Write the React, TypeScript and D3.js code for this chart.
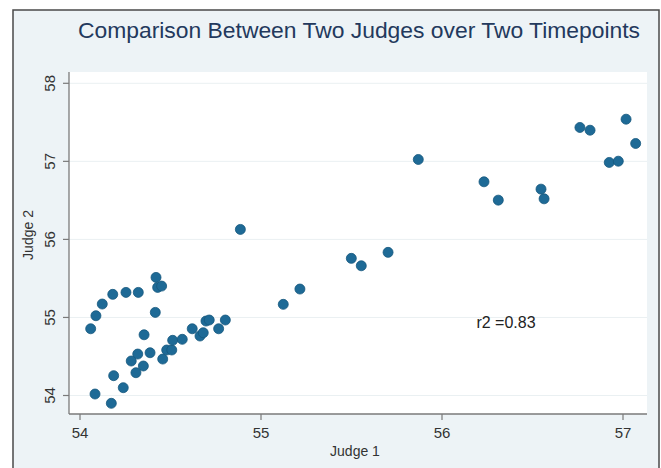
import React from "react";
import * as d3 from "d3";

const judge1: number[] = [
  54.059, 54.088, 54.123, 54.181, 54.254, 54.322, 54.42, 54.429, 54.451, 54.416,
  54.083, 54.173, 54.186, 54.239, 54.354, 54.319, 54.283, 54.35, 54.309, 54.387,
  54.457, 54.479, 54.507, 54.512, 54.565, 54.62, 54.663, 54.681, 54.696, 54.714,
  54.766, 54.803,
  55.869, 54.886, 55.702, 55.499, 55.554, 55.215, 55.123,
  56.232, 56.311, 56.547, 56.564, 56.762, 56.818, 57.017, 57.07, 56.924, 56.974,
];
const judge2: number[] = [
  54.855, 55.022, 55.172, 55.296, 55.321, 55.321, 55.513, 55.385, 55.402, 55.065,
  54.019, 53.9, 54.254, 54.1, 54.778, 54.531, 54.442, 54.378, 54.292, 54.548,
  54.467, 54.583, 54.583, 54.707, 54.72, 54.855, 54.762, 54.804, 54.954, 54.967,
  54.855, 54.967,
  57.024, 56.128, 55.834, 55.757, 55.662, 55.364, 55.168,
  56.738, 56.503, 56.644, 56.52, 57.434, 57.399, 57.54, 57.229, 56.986, 57.002,
];
const xTicks: number[] = [54, 55, 56, 57];
const yTicks: number[] = [54, 55, 56, 57, 58];
const titleText = "Comparison Between Two Judges over Two Timepoints";
const xLabel = "Judge 1";
const yLabel = "Judge 2";
const r2Label = "r2 =0.83";
const r2Pos: [number, number] = [56.19, 54.94];

const W = 661;
const H = 468;
const plot = { left: 69, right: 647, top: 72, bottom: 414 };

export default function App() {
  const x = d3
    .scaleLinear()
    .domain([54, 57])
    .range([80, 623]);
  const y = d3
    .scaleLinear()
    .domain([54, 58])
    .range([395.5, 83.3]);
  const font = "'Liberation Sans', Arial, Helvetica, sans-serif";
  const data = judge1.map((v, i) => [v, judge2[i]] as [number, number]);

  return (
    <svg
      width={W}
      height={H}
      style={{ position: "absolute", left: 0, top: 0, display: "block" }}
      fontFamily={font}
    >
      <rect x={0} y={0} width={W} height={H} fill="#ffffff" />
      <rect x={13} y={10} width={646} height={470} fill="#EDF3F6" stroke="#4a4a4a" strokeWidth={1.5} />
      <rect
        x={plot.left}
        y={plot.top}
        width={plot.right - plot.left}
        height={plot.bottom - plot.top}
        fill="#ffffff"
      />
      {yTicks.map((t) => (
        <line
          key={"g" + t}
          x1={plot.left}
          x2={plot.right}
          y1={y(t)}
          y2={y(t)}
          stroke="#EAF0F2"
          strokeWidth={1}
        />
      ))}
      <text
        x={78}
        y={38}
        fontSize={22}
        fill="#23395D"
        textLength={562}
        lengthAdjust="spacingAndGlyphs"
      >
        {titleText}
      </text>
      {/* axes */}
      <line x1={plot.left} x2={plot.left} y1={plot.top} y2={plot.bottom} stroke="#7a7a7a" strokeWidth={1.3} />
      <line x1={plot.left} x2={plot.right} y1={plot.bottom} y2={plot.bottom} stroke="#7a7a7a" strokeWidth={1.3} />
      {yTicks.map((t) => (
        <g key={"y" + t}>
          <line x1={plot.left - 6} x2={plot.left} y1={y(t)} y2={y(t)} stroke="#7a7a7a" strokeWidth={1.2} />
          <text
            transform={`translate(${55},${y(t)}) rotate(-90)`}
            textAnchor="middle"
            fontSize={15}
            fill="#333"
          >
            {t}
          </text>
        </g>
      ))}
      {xTicks.map((t) => (
        <g key={"x" + t}>
          <line x1={x(t)} x2={x(t)} y1={plot.bottom} y2={plot.bottom + 6} stroke="#7a7a7a" strokeWidth={1.2} />
          <text x={x(t)} y={438} textAnchor="middle" fontSize={15} fill="#333">
            {t}
          </text>
        </g>
      ))}
      <text x={355} y={456} textAnchor="middle" fontSize={14} fill="#333">
        {xLabel}
      </text>
      <text
        transform={`translate(${33},${235}) rotate(-90)`}
        textAnchor="middle"
        fontSize={14}
        fill="#333"
      >
        {yLabel}
      </text>
      {data.map(([a, b], i) => (
        <circle key={i} cx={x(a)} cy={y(b)} r={5} fill="#1E6A96" stroke="#17587E" strokeWidth={0.8} />
      ))}
      <text x={x(r2Pos[0])} y={y(r2Pos[1]) + 5.5} fontSize={16} fill="#222">
        {r2Label}
      </text>
    </svg>
  );
}
